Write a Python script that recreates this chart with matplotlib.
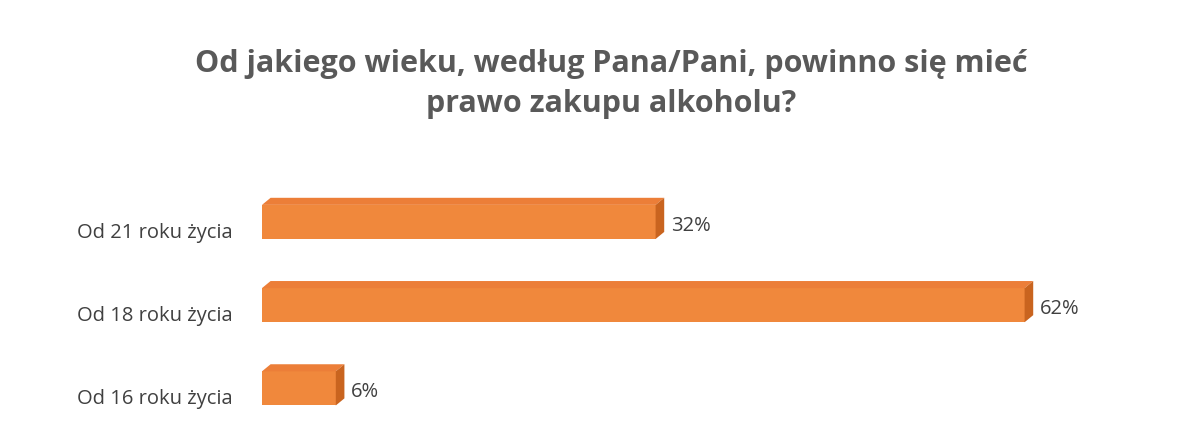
import matplotlib.pyplot as plt
from matplotlib.patches import Polygon

categories = ['Od 21 roku życia', 'Od 18 roku życia', 'Od 16 roku życia']
values = [32, 62, 6]
value_labels = ['32%', '62%', '6%']
title = 'Od jakiego wieku, według Pana/Pani, powinno się mieć\nprawo zakupu alkoholu?'

plt.rcParams['font.family'] = ['Open Sans', 'DejaVu Sans']

fig = plt.figure(figsize=(12.03, 4.34), dpi=100)
fig.patch.set_facecolor('white')
# axes placed so x=0 sits at the bars' left edge
ax = fig.add_axes([262 / 1203, 4 / 434, 861 / 1203, 258 / 434])
ax.set_xlim(0, 70)
ax.set_ylim(2.5, -0.6)
ax.axis('off')

front = '#F0883C'
top = '#EC7E38'
side = '#C9641F'
h = 0.41
dx = 0.7
dy = 0.085

for i, v in enumerate(values):
    y0 = i - h / 2
    y1 = i + h / 2
    ax.add_patch(Polygon([(0, y0), (v, y0), (v, y1), (0, y1)], closed=True,
                         facecolor=front, edgecolor='none'))
    ax.add_patch(Polygon([(0, y0), (dx, y0 - dy), (v + dx, y0 - dy), (v, y0)],
                         closed=True, facecolor=top, edgecolor='none'))
    ax.add_patch(Polygon([(v, y0), (v + dx, y0 - dy), (v + dx, y1 - dy), (v, y1)],
                         closed=True, facecolor=side, edgecolor='none'))
    ax.text(v + dx + 0.55, i + 0.108, value_labels[i], ha='left', va='baseline',
            fontsize=14.5, color='#404040')
    ax.text(-2.4, i + 0.19, categories[i], ha='right', va='baseline',
            fontsize=14.5, color='#404040')

fig.text(0.508, 0.806, title, ha='center', va='center', fontsize=22,
         fontweight='bold', color='#595959', linespacing=1.45)

fig.savefig('out.png', dpi=100)
